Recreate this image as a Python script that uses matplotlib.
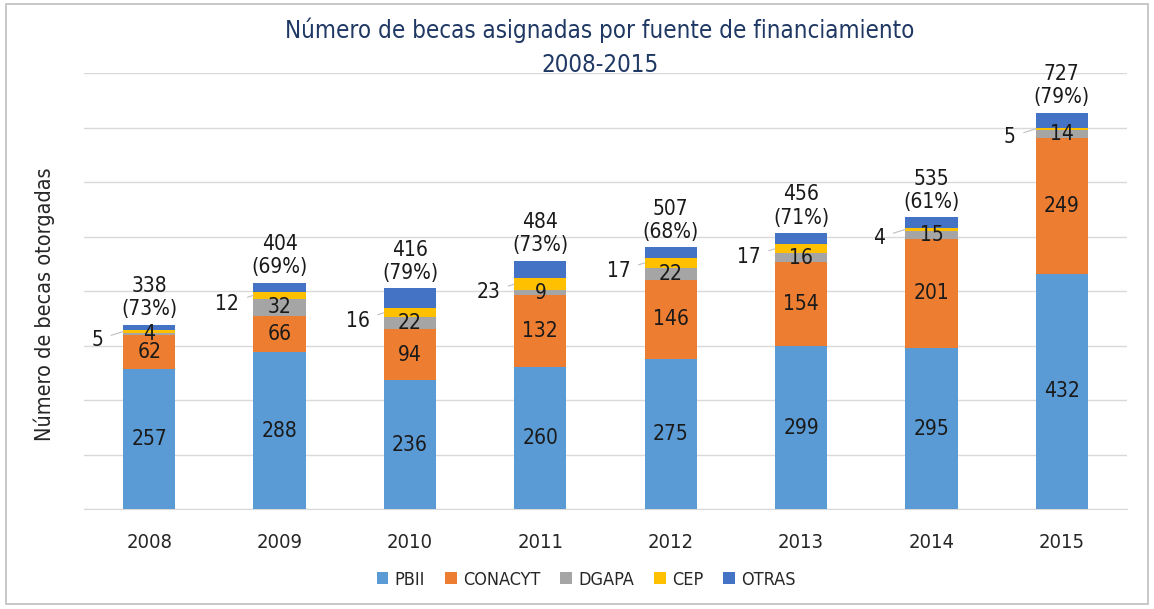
import matplotlib
matplotlib.use("Agg")
import matplotlib.pyplot as plt
from matplotlib.patches import Rectangle
from matplotlib import font_manager as fm

years = ["2008", "2009", "2010", "2011", "2012", "2013", "2014", "2015"]
pbii = [257, 288, 236, 260, 275, 299, 295, 432]
conacyt = [62, 66, 94, 132, 146, 154, 201, 249]
dgapa = [4, 32, 22, 9, 22, 16, 15, 14]
cep = [5, 12, 16, 23, 17, 17, 4, 5]
otras = [10, 17, 37, 31, 20, 20, 20, 27]
totals = [338, 404, 416, 484, 507, 456, 535, 727]
percents = [73, 69, 79, 73, 68, 71, 61, 79]

series_names = ["PBII", "CONACYT", "DGAPA", "CEP", "OTRAS"]
colors = ["#5B9BD5", "#ED7D31", "#A5A5A5", "#FFC000", "#4472C4"]

has_cond = any(f.name == "DejaVu Sans" and f.stretch in ("condensed", 600) or
               "Condensed" in f.fname and "DejaVuSans" in f.fname.replace("-", "")
               for f in fm.fontManager.ttflist)
if has_cond:
    FAM = ["DejaVu Sans", "DejaVu Sans"]
    STRETCH = "condensed"
else:
    FAM = ["Lato", "DejaVu Sans"]
    STRETCH = "normal"
plt.rcParams["font.family"] = FAM
plt.rcParams["font.stretch"] = STRETCH

W, H = 1154, 609
fig = plt.figure(figsize=(W / 100, H / 100), dpi=100)
ax = fig.add_axes([84 / W, 100 / H, (1127 - 84) / W, 436 / H])

x = list(range(len(years)))
series = [pbii, conacyt, dgapa, cep, otras]
bottom = [0] * len(years)
bottoms = []
for vals, col, name in zip(series, colors, series_names):
    ax.bar(x, vals, width=0.4, bottom=bottom, color=col, label=name, zorder=3)
    bottoms.append(list(bottom))
    bottom = [b + v for b, v in zip(bottom, vals)]
tops = bottom

ax.set_ylim(0, 800)
ax.set_xlim(-0.5, len(years) - 0.5)
ax.set_yticks(range(0, 801, 100))
ax.yaxis.grid(True, color="#D9D9D9", linewidth=1.0, zorder=0)
ax.tick_params(axis="y", left=False, labelleft=False)
ax.tick_params(axis="x", bottom=False, labelsize=14.5, colors="#262626", pad=14)
ax.set_xticks(x)
ax.set_xticklabels(years)
for s in ["top", "right", "left"]:
    ax.spines[s].set_visible(False)
ax.spines["bottom"].set_color("#D9D9D9")

lab_fs = 15
# inside labels for PBII, CONACYT, DGAPA
for si in range(3):
    for i in x:
        v = series[si][i]
        ax.text(i, bottoms[si][i] + v / 2, str(v), ha="center", va="center",
                fontsize=lab_fs, color="#1a1a1a", zorder=5)

# CEP labels with leader lines
for i in x:
    v = cep[i]
    ymid = bottoms[3][i] + v / 2
    ax.annotate(str(v), xy=(i - 0.2, ymid), xytext=(i - 0.40, ymid - 15),
                ha="center", va="center", fontsize=lab_fs, color="#1a1a1a",
                arrowprops=dict(arrowstyle="-", color="#BFBFBF", lw=0.8,
                                shrinkA=4, shrinkB=0),
                zorder=5)

# total labels
for i in x:
    ax.annotate(f"{totals[i]}\n({percents[i]}%)", xy=(i, tops[i]), xytext=(0, 4),
                textcoords="offset points", ha="center", va="bottom",
                fontsize=lab_fs, color="#1a1a1a", linespacing=1.2, zorder=5)

fig.text(0.52, 0.950, "Número de becas asignadas por fuente de financiamiento",
         ha="center", va="center", fontsize=17.3, color="#1F3864")
fig.text(0.52, 0.893, "2008-2015", ha="center", va="center", fontsize=17.3, color="#1F3864")

fig.text(44 / W, 0.50, "Número de becas otorgadas", rotation=90, ha="center",
         va="center", fontsize=15.5, color="#262626")

leg = fig.legend(loc="center", bbox_to_anchor=(0.508, 0.048), ncol=5, frameon=False,
                 fontsize=13, handlelength=0.65, handleheight=0.65, columnspacing=1.1,
                 handletextpad=0.35)
for t in leg.get_texts():
    t.set_color("#262626")

fig.patches.append(Rectangle((0.005, 0.008), 0.99, 0.985, transform=fig.transFigure,
                             fill=False, edgecolor="#BFBFBF", linewidth=1.2))

fig.savefig("out.png", dpi=100)
